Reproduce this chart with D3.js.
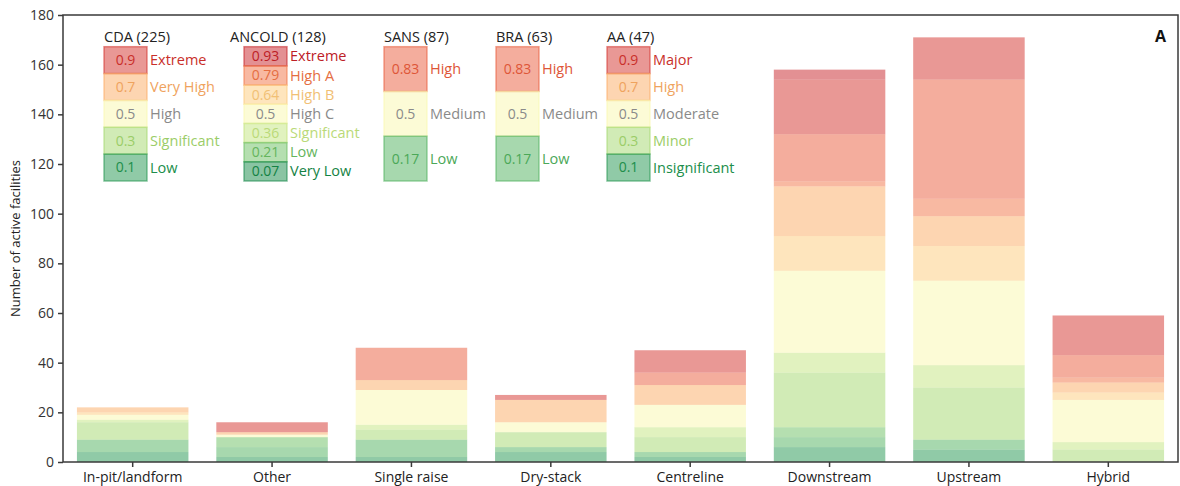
<!DOCTYPE html>
<html>
<head>
<meta charset="utf-8">
<script src="https://cdn.jsdelivr.net/npm/d3@7"></script>
<style>
  body { margin: 0; background: #fff; }
  svg text { font-family: "Open Sans", "Noto Sans", sans-serif; }
</style>
</head>
<body>
<script>
// consequence scores, low (bottom of stack) to high (top)
const scores = [0.07, 0.1, 0.17, 0.21, 0.3, 0.36, 0.5, 0.64, 0.7, 0.79, 0.83, 0.9, 0.93];

const categories = ["In-pit/landform", "Other", "Single raise", "Dry-stack",
                    "Centreline", "Downstream", "Upstream", "Hybrid"];

// facilities per score, one row per category (same order as scores)
const counts = [
  [0, 4, 5, 0, 7, 1, 2, 1, 2, 0, 0, 0, 0],
  [0, 2, 4, 4, 0, 0, 1, 0, 1, 0, 0, 4, 0],
  [0, 2, 7, 0, 4, 2, 14, 0, 4, 0, 13, 0, 0],
  [0, 4, 2, 0, 6, 0, 4, 0, 9, 0, 0, 2, 0],
  [0, 2, 2, 0, 6, 4, 9, 0, 8, 0, 5, 9, 0],
  [0, 6, 4, 4, 22, 8, 33, 14, 20, 2, 19, 22, 4],
  [0, 5, 4, 0, 21, 9, 34, 14, 12, 7, 48, 17, 0],
  [0, 0, 0, 0, 5, 3, 17, 3, 4, 2, 9, 16, 0]
];

const yTicks = [0, 20, 40, 60, 80, 100, 120, 140, 160, 180];

// hazard classification systems (legend)
const cdaScores = [0.9, 0.7, 0.5, 0.3, 0.1];
const cdaLabels = ["Extreme", "Very High", "High", "Significant", "Low"];
const ancoldScores = [0.93, 0.79, 0.64, 0.5, 0.36, 0.21, 0.07];
const ancoldLabels = ["Extreme", "High A", "High B", "High C", "Significant", "Low", "Very Low"];
const sansScores = [0.83, 0.5, 0.17];
const sansLabels = ["High", "Medium", "Low"];
const braScores = [0.83, 0.5, 0.17];
const braLabels = ["High", "Medium", "Low"];
const aaScores = [0.9, 0.7, 0.5, 0.3, 0.1];
const aaLabels = ["Major", "High", "Moderate", "Minor", "Insignificant"];

const legendGroups = [
  { title: "CDA (225)", scores: cdaScores, labels: cdaLabels, x: 104, tx: 104 },
  { title: "ANCOLD (128)", scores: ancoldScores, labels: ancoldLabels, x: 244, tx: 230 },
  { title: "SANS (87)", scores: sansScores, labels: sansLabels, x: 384, tx: 384 },
  { title: "BRA (63)", scores: braScores, labels: braLabels, x: 496, tx: 496 },
  { title: "AA (47)", scores: aaScores, labels: aaLabels, x: 607, tx: 607 }
];

const w = 1180, h = 486;
const margin = { top: 15, right: 2, bottom: 24, left: 63 };

const color = s => d3.interpolateRdYlGn(1 - s);
const textColor = s => s === 0.5 ? "#8a8a8a" : d3.color(color(s)).darker(0.15);

const svg = d3.select("body").append("svg")
  .attr("width", w)
  .attr("height", h);

const xScale = d3.scaleBand()
  .domain(categories)
  .range([margin.left, w - margin.right])
  .paddingInner(0.2)
  .paddingOuter(0.1);

const yScale = d3.scaleLinear()
  .domain([0, 180])
  .range([h - margin.bottom, margin.top]);

// stacked bars
const rows = counts.map((c, i) => {
  const o = { cat: categories[i] };
  scores.forEach((s, j) => o[j] = c[j]);
  return o;
});
const series = d3.stack().keys(scores.map((s, j) => j))(rows);

svg.append("g")
  .selectAll("g")
  .data(series)
  .enter()
  .append("g")
  .attr("fill", d => color(scores[d.key]))
  .attr("fill-opacity", 0.5)
  .selectAll("rect")
  .data(d => d.filter(p => p[1] > p[0]))
  .enter()
  .append("rect")
  .attr("x", d => xScale(d.data.cat))
  .attr("width", xScale.bandwidth())
  .attr("y", d => yScale(d[1]))
  .attr("height", d => yScale(d[0]) - yScale(d[1]));

// frame
svg.append("rect")
  .attr("x", margin.left)
  .attr("y", margin.top)
  .attr("width", w - margin.left - margin.right)
  .attr("height", h - margin.top - margin.bottom)
  .attr("fill", "none")
  .attr("stroke", "#3a3a3a")
  .attr("stroke-width", 1.5);

const xAxis = d3.axisBottom(xScale).tickSize(5).tickSizeOuter(0).tickPadding(5);
const gx = svg.append("g")
  .attr("transform", "translate(0," + (h - margin.bottom) + ")")
  .call(xAxis);
gx.select(".domain").remove();
gx.selectAll("line").attr("stroke", "#3a3a3a").attr("stroke-width", 1.5);
gx.selectAll("text").attr("font-size", 14).attr("fill", "#222");

const yAxis = d3.axisLeft(yScale).tickValues(yTicks).tickSize(5).tickSizeOuter(0).tickPadding(4);
const gy = svg.append("g")
  .attr("transform", "translate(" + margin.left + ",0)")
  .call(yAxis);
gy.select(".domain").remove();
gy.selectAll("line").attr("stroke", "#3a3a3a").attr("stroke-width", 1.5);
gy.selectAll("text").attr("font-size", 14).attr("fill", "#333");

svg.append("text")
  .attr("transform", "translate(20," + (margin.top + (h - margin.top - margin.bottom) / 2) + ") rotate(-90)")
  .attr("text-anchor", "middle")
  .attr("font-size", 13)
  .attr("fill", "#222")
  .text("Number of active facilities");

svg.append("text")
  .attr("x", 1166)
  .attr("y", 42)
  .attr("text-anchor", "end")
  .attr("font-size", 16)
  .attr("font-weight", "bold")
  .attr("fill", "#111")
  .text("A");

// legend
const legTop = 46.7, legBottom = 181, boxW = 43;
legendGroups.forEach(g => {
  const lg = svg.append("g");
  lg.append("text")
    .attr("x", g.tx)
    .attr("y", 42)
    .attr("font-size", 14.5)
    .attr("fill", "#222")
    .text(g.title);
  const bh = (legBottom - legTop) / g.scores.length;
  g.scores.forEach((s, i) => {
    const y0 = legTop + i * bh;
    lg.append("rect")
      .attr("x", g.x)
      .attr("y", y0)
      .attr("width", boxW)
      .attr("height", bh)
      .attr("fill", color(s))
      .attr("fill-opacity", 0.5)
      .attr("stroke", color(s))
      .attr("stroke-opacity", 0.55)
      .attr("stroke-width", 1.5);
    lg.append("text")
      .attr("x", g.x + boxW / 2)
      .attr("y", y0 + bh / 2)
      .attr("dy", "0.35em")
      .attr("text-anchor", "middle")
      .attr("font-size", 14)
      .attr("fill", textColor(s))
      .text(s);
    lg.append("text")
      .attr("x", g.x + boxW + 3)
      .attr("y", y0 + bh / 2)
      .attr("dy", "0.35em")
      .attr("font-size", 14.5)
      .attr("fill", textColor(s))
      .text(g.labels[i]);
  });
});
</script>
</body>
</html>
